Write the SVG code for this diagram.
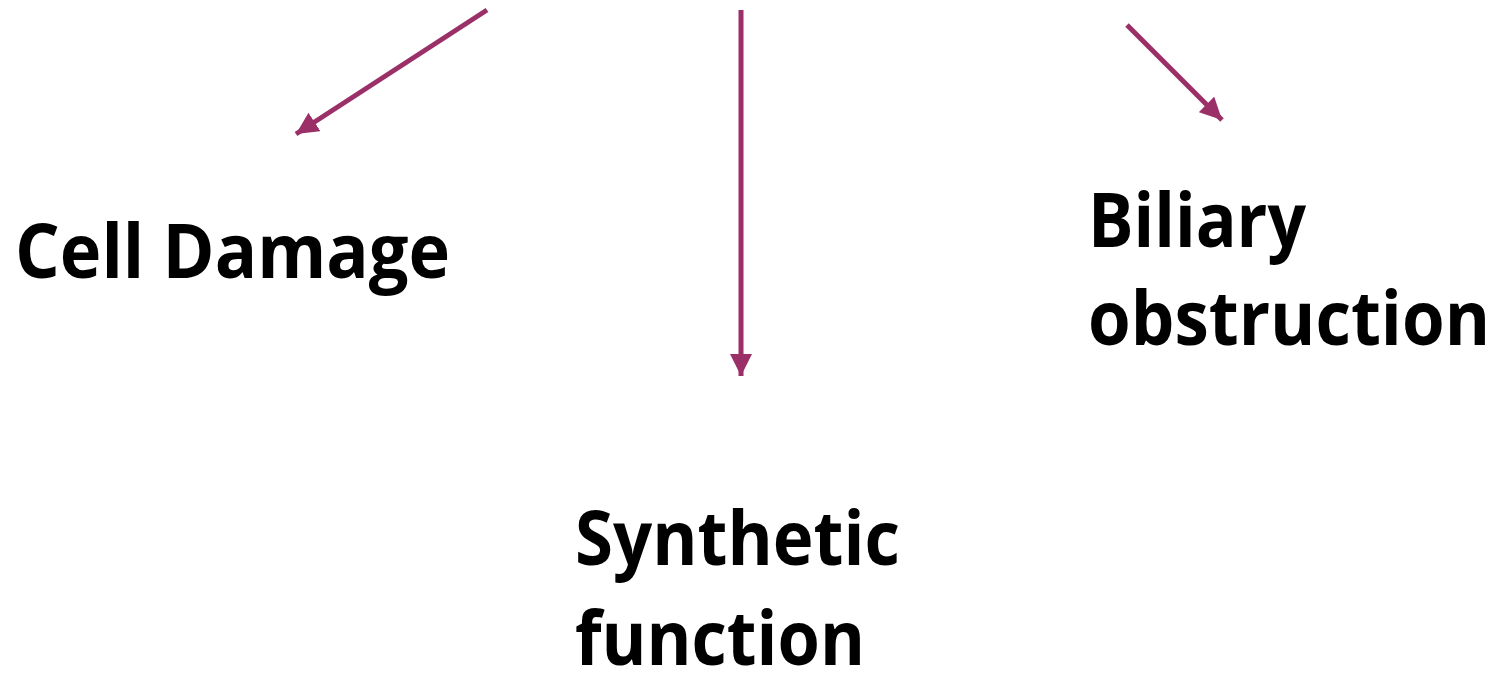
<svg xmlns="http://www.w3.org/2000/svg" width="1500" height="674" viewBox="0 0 1500 674">
  <defs>
    <marker id="head" viewBox="0 0 10 10" refX="10" refY="5" markerWidth="4.4" markerHeight="4.4" orient="auto" markerUnits="strokeWidth">
      <path d="M0,0 L10,5 L0,10 Z" fill="#9b3068"/>
    </marker>
  </defs>
  <style>
    .arrow { stroke: #9b3068; stroke-width: 5; fill: none; marker-end: url(#head); }
    .label { font-family: "Open Sans", "Noto Sans", sans-serif; font-weight: 700; font-size: 76px; fill: #000; }
  </style>
  <rect width="1500" height="674" fill="#fff"/>
  <g id="connectors">
    <line class="arrow" x1="487" y1="10" x2="296" y2="134"/>
    <line class="arrow" x1="741" y1="10" x2="741" y2="376"/>
    <line class="arrow" x1="1127" y1="25" x2="1222" y2="120"/>
  </g>
  <g id="cell-damage">
    <text class="label" x="15" y="278" textLength="435" lengthAdjust="spacingAndGlyphs">Cell Damage</text>
  </g>
  <g id="synthetic-function">
    <text class="label" x="575" y="565" textLength="325" lengthAdjust="spacingAndGlyphs">Synthetic</text>
    <text class="label" x="575" y="665" textLength="290" lengthAdjust="spacingAndGlyphs">function</text>
  </g>
  <g id="biliary-obstruction">
    <text class="label" x="1088" y="247" textLength="218" lengthAdjust="spacingAndGlyphs">Biliary</text>
    <text class="label" x="1088" y="345" textLength="402" lengthAdjust="spacingAndGlyphs">obstruction</text>
  </g>
</svg>
